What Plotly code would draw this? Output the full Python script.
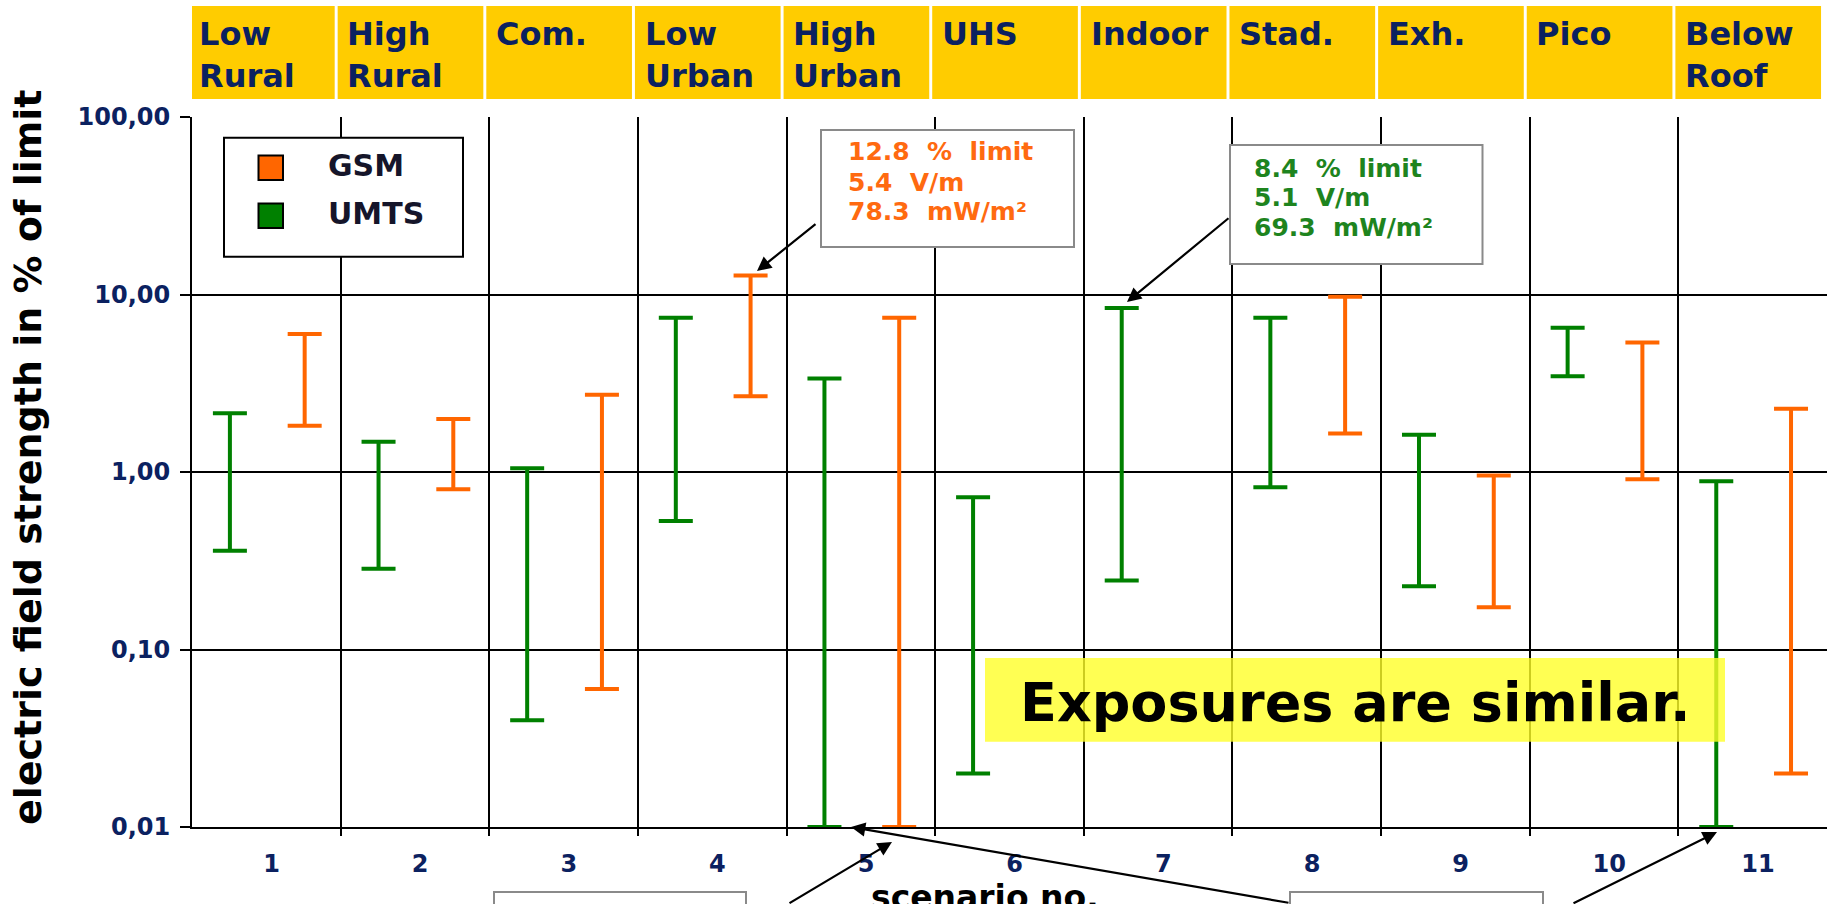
import plotly.graph_objects as go

# ---------------- data ----------------
scenarios = list(range(1, 12))
headers = ["Low\nRural", "High\nRural", "Com.", "Low\nUrban", "High\nUrban", "UHS",
           "Indoor", "Stad.", "Exh.", "Pico", "Below\nRoof"]
umts_low = [0.36, 0.285, 0.04, 0.53, 0.01, 0.02, 0.245, 0.82, 0.227, 3.46, 0.01]
umts_high = [2.14, 1.48, 1.05, 7.4, 3.36, 0.72, 8.4, 7.4, 1.62, 6.5, 0.886]
gsm_low = [1.82, 0.80, 0.06, 2.67, 0.01, None, None, 1.65, 0.173, 0.91, 0.02]
gsm_high = [6.0, 1.99, 2.72, 12.8, 7.4, None, None, 9.7, 0.955, 5.36, 2.27]
y_tickvals = [0.01, 0.1, 1, 10, 100]
y_ticktext = ["0,01", "0,10", "1,00", "10,00", "100,00"]
series_names = ["GSM", "UMTS"]
gsm_note = ["12.8 % limit", "5.4 V/m", "78.3 mW/m²"]
umts_note = ["8.4 % limit", "5.1 V/m", "69.3 mW/m²"]
message = "Exposures are similar."

# ---------------- style ----------------
W, H = 1827, 904
L, T, B = 192, 117, 827
PW, PH = W - L, B - T
ORANGE = "#FF6600"
GREEN = "#008000"
NAVY = "#0B2160"
FONT = "DejaVu Sans"


def px(xp):
    return (xp - L) / PW


def py(yp):
    return (B - yp) / PH


def bar_trace(name, xs, lows, highs, color):
    arr = [None if (lo is None or hi is None) else hi - lo for lo, hi in zip(lows, highs)]
    return go.Scatter(
        x=xs, y=lows, mode="markers", name=name, showlegend=False,
        marker=dict(size=0, color=color, opacity=0),
        error_y=dict(type="data", symmetric=False, array=arr,
                     arrayminus=[0 if a is not None else None for a in arr],
                     color=color, thickness=4, width=17),
        hoverinfo="skip",
    )


fig = go.Figure()
fig.add_trace(bar_trace("UMTS", [s - 0.245 for s in scenarios], umts_low, umts_high, GREEN))
fig.add_trace(bar_trace("GSM", [s + 0.258 for s in scenarios], gsm_low, gsm_high, ORANGE))

shapes = []
annotations = []

# header boxes
for s, h in zip(scenarios, headers):
    shapes.append(dict(type="rect", xref="x", yref="paper", x0=s - 0.52, x1=s + 0.46,
                       y0=py(99), y1=py(6), fillcolor="#FFCC00", line=dict(width=0),
                       layer="above"))
    annotations.append(dict(xref="x", yref="paper", x=s - 0.468, y=py(13),
                            xanchor="left", yanchor="top", align="left", showarrow=False,
                            text="<b>" + h.replace("\n", "<br>") + "</b>",
                            font=dict(family=FONT, size=32, color=NAVY)))

# legend box
shapes.append(dict(type="rect", xref="paper", yref="paper", x0=px(224), x1=px(463),
                   y0=py(256.7), y1=py(137.7), fillcolor="white",
                   line=dict(color="black", width=2), layer="above"))
for name, color, cy in [(series_names[0], ORANGE, 167.7), (series_names[1], GREEN, 215.7)]:
    shapes.append(dict(type="rect", xref="paper", yref="paper", x0=px(258.5), x1=px(283),
                       y0=py(cy + 12.2), y1=py(cy - 12.2), fillcolor=color,
                       line=dict(color="black", width=2), layer="above"))
    annotations.append(dict(xref="paper", yref="paper", x=px(326), y=py(cy - 2),
                            xanchor="left", yanchor="middle", showarrow=False,
                            text="<b>" + name + "</b>",
                            font=dict(family=FONT, size=30, color="#15152a")))

# info boxes
shapes.append(dict(type="rect", xref="paper", yref="paper", x0=px(821), x1=px(1074),
                   y0=py(247), y1=py(130), fillcolor="white",
                   line=dict(color="#8a8a8a", width=2), layer="above"))
shapes.append(dict(type="rect", xref="paper", yref="paper", x0=px(1230), x1=px(1482.5),
                   y0=py(264), y1=py(145), fillcolor="white",
                   line=dict(color="#8a8a8a", width=2), layer="above"))
for note, x_left, centers, color in [
    (gsm_note, 846, [151, 182, 211], "#FF6A10"),
    (umts_note, 1252, [168, 198, 227], "#1E841E"),
]:
    for line, cy in zip(note, centers):
        annotations.append(dict(xref="paper", yref="paper", x=px(x_left), y=py(cy),
                                xanchor="left", yanchor="middle", showarrow=False,
                                text="<b>" + line.replace(" ", "  ") + "</b>",
                                font=dict(family=FONT, size=25, color=color)))

# bottom boxes (cut off by the picture edge)
for x0, x1 in [(494, 746), (1290, 1543)]:
    shapes.append(dict(type="rect", xref="paper", yref="paper", x0=px(x0), x1=px(x1),
                       y0=py(960), y1=py(892), fillcolor="white",
                       line=dict(color="#8a8a8a", width=2), layer="above"))

# highlight message
shapes.append(dict(type="rect", xref="paper", yref="paper", x0=px(985), x1=px(1725),
                   y0=py(741.7), y1=py(658), fillcolor="rgba(255,255,40,0.8)",
                   line=dict(width=0), layer="above"))
annotations.append(dict(xref="paper", yref="paper", x=px(1355), y=py(702),
                        xanchor="center", yanchor="middle", showarrow=False,
                        text="<b>" + message + "</b>",
                        font=dict(family=FONT, size=54, color="black")))

# arrows
arrow_style = dict(showarrow=True, arrowhead=2, arrowsize=1.3, arrowwidth=2.2,
                   arrowcolor="black", text="")
annotations.append(dict(xref="paper", yref="paper", x=px(757), y=py(271), ax=60, ay=-48, **arrow_style))
annotations.append(dict(xref="paper", yref="paper", x=px(1127), y=py(302), ax=103, ay=-85, **arrow_style))
annotations.append(dict(xref="paper", yref="paper", x=px(851), y=py(827), ax=439, ay=76, **arrow_style))
annotations.append(dict(xref="paper", yref="paper", x=px(892), y=py(842), ax=-104, ay=62, **arrow_style))
annotations.append(dict(xref="paper", yref="paper", x=px(1717), y=py(832), ax=-145, ay=72, **arrow_style))

# axis titles
annotations.append(dict(xref="paper", yref="paper", x=px(28), y=py(457), textangle=-90,
                        xanchor="center", yanchor="middle", showarrow=False,
                        text="<b>electric field strength in % of limit</b>",
                        font=dict(family=FONT, size=38, color="black")))
annotations.append(dict(xref="paper", yref="paper", x=px(985), y=py(876),
                        xanchor="center", yanchor="top", showarrow=False,
                        text="<b>scenario no.</b>",
                        font=dict(family=FONT, size=33, color="black")))

fig.update_layout(
    width=W, height=H, autosize=False,
    margin=dict(l=L, r=0, t=T, b=H - B, pad=0),
    paper_bgcolor="white", plot_bgcolor="white",
    showlegend=False,
    shapes=shapes, annotations=annotations,
    xaxis=dict(
        range=[0.5, 11.5], showgrid=False, zeroline=False,
        tickvals=[s + 0.035 for s in scenarios], ticktext=[str(s) for s in scenarios],
        ticks="", ticklabelstandoff=14,
        tickfont=dict(family=FONT, size=24, color=NAVY, weight="bold"),
        showline=True, linecolor="black", linewidth=2,
        minor=dict(tickvals=[s + 0.5 for s in scenarios[:-1]], ticks="outside", ticklen=7,
                   tickwidth=2, tickcolor="black", showgrid=True, gridcolor="black",
                   gridwidth=2),
    ),
    yaxis=dict(
        type="log", range=[-2, 2], tickvals=y_tickvals, ticktext=y_ticktext,
        ticks="outside", ticklen=10, tickwidth=2, tickcolor="black",
        ticklabelstandoff=5,
        tickfont=dict(family=FONT, size=24, color=NAVY, weight="bold"),
        showgrid=True, gridcolor="black", gridwidth=2,
        showline=True, linecolor="black", linewidth=2, zeroline=False,
    ),
)

fig.write_html("out.html", config={"displayModeBar": False},
               post_script="document.body.style.margin='0';document.body.style.overflow='hidden';")
